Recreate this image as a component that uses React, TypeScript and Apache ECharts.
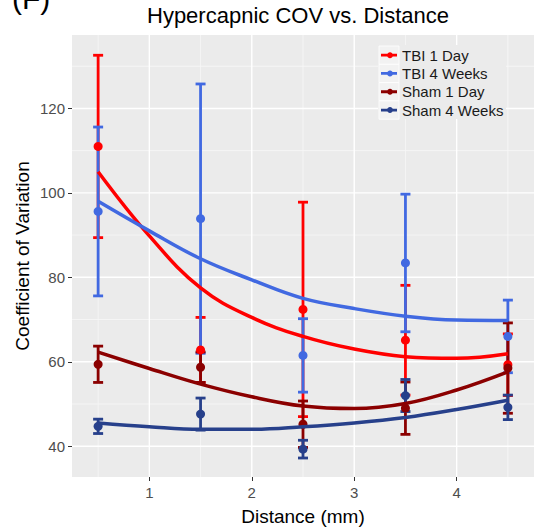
import React, { useEffect, useRef } from "react";
import * as echarts from "echarts";

// ---- data ----
const distances = [0.5, 1.5, 2.5, 3.5, 4.5];
const groups = ["TBI 1 Day", "TBI 4 Weeks", "Sham 1 Day", "Sham 4 Weeks"];
const colors = ["#FF0000", "#4169E1", "#8B0000", "#27408B"];

const tbi1DayMean = [111.0, 62.8, 72.4, 65.1, 59.3];
const tbi1DaySe = [21.6, 7.7, 25.4, 13.0, 7.3];
const tbi4WeeksMean = [95.6, 93.9, 61.5, 83.4, 66.0];
const tbi4WeeksSe = [20.0, 31.9, 8.7, 16.3, 8.6];
const sham1DayMean = [59.4, 58.7, 45.2, 49.0, 58.5];
const sham1DaySe = [4.3, 3.6, 5.5, 6.2, 10.7];
const sham4WeeksMean = [44.7, 47.6, 39.3, 52.0, 49.2];
const sham4WeeksSe = [1.7, 3.8, 2.1, 3.8, 2.9];

// smoothed fit curves, read at these distances
const fitX = [0.5, 1, 1.5, 2, 2.5, 3, 3.5, 4, 4.5];
const tbi1DayFit = [105.0, 89.8, 77.5, 70.5, 66.0, 63.0, 61.2, 60.8, 61.9];
const tbi4WeeksFit = [98.0, 91.0, 84.4, 79.4, 75.0, 72.6, 70.8, 69.9, 69.8];
const sham1DayFit = [62.3, 58.4, 54.7, 51.7, 49.5, 48.9, 50.1, 53.3, 57.6];
const sham4WeeksFit = [45.5, 44.6, 44.0, 44.0, 44.6, 45.5, 46.8, 48.7, 50.9];

const xTicks = [1, 2, 3, 4];
const xMinor = [0.5, 1.5, 2.5, 3.5, 4.5];
const yTicks = [40, 60, 80, 100, 120];
const yMinor = [50, 70, 90, 110, 130];

const means = [tbi1DayMean, tbi4WeeksMean, sham1DayMean, sham4WeeksMean];
const ses = [tbi1DaySe, tbi4WeeksSe, sham1DaySe, sham4WeeksSe];
const fits = [tbi1DayFit, tbi4WeeksFit, sham1DayFit, sham4WeeksFit];

const FONT = "Liberation Sans, Arial, Helvetica, sans-serif";

export default function App() {
  const ref = useRef<HTMLDivElement>(null);

  useEffect(() => {
    if (!ref.current) return;
    const chart = echarts.init(ref.current, null, { renderer: "svg" });

    // grid lines: [value, direction (0 = horizontal/y, 1 = vertical/x), major]
    const gridData: number[][] = [];
    yMinor.forEach((v) => gridData.push([v, 0, 0]));
    xMinor.forEach((v) => gridData.push([v, 1, 0]));
    yTicks.forEach((v) => gridData.push([v, 0, 1]));
    xTicks.forEach((v) => gridData.push([v, 1, 1]));

    const series: any[] = [];
    series.push({
      type: "custom",
      name: "grid",
      z: 1,
      silent: true,
      data: gridData,
      encode: { x: 0, y: 0 },
      renderItem: (params: any, api: any) => {
        const cs = params.coordSys;
        const v = api.value(0);
        const dir = api.value(1);
        const major = api.value(2);
        const style = {
          stroke: major ? "#FFFFFF" : "#F7F7F7",
          lineWidth: major ? 1.4 : 0.8,
        };
        if (dir === 0) {
          const y = api.coord([1, v])[1];
          return { type: "line", shape: { x1: cs.x, y1: y, x2: cs.x + cs.width, y2: y }, style };
        }
        const x = api.coord([v, 60])[0];
        return { type: "line", shape: { x1: x, y1: cs.y, x2: x, y2: cs.y + cs.height }, style };
      },
    });

    groups.forEach((g, gi) => {
      const color = colors[gi];
      series.push({
        type: "custom",
        name: g,
        z: 2 + gi * 0.1,
        itemStyle: { color },
        data: distances.map((d, i) => [d, means[gi][i] - ses[gi][i], means[gi][i] + ses[gi][i]]),
        encode: { x: 0, y: [1, 2] },
        renderItem: (_params: any, api: any) => {
          const x = api.value(0);
          const pLo = api.coord([x, api.value(1)]);
          const pHi = api.coord([x, api.value(2)]);
          const hw = 5;
          const style = { stroke: color, lineWidth: 2.8 };
          return {
            type: "group",
            children: [
              { type: "line", shape: { x1: pLo[0], y1: pLo[1], x2: pHi[0], y2: pHi[1] }, style },
              { type: "line", shape: { x1: pLo[0] - hw, y1: pLo[1], x2: pLo[0] + hw, y2: pLo[1] }, style },
              { type: "line", shape: { x1: pHi[0] - hw, y1: pHi[1], x2: pHi[0] + hw, y2: pHi[1] }, style },
            ],
          };
        },
      });
    });

    groups.forEach((g, gi) => {
      series.push({
        type: "scatter",
        name: g,
        z: 3,
        symbol: "circle",
        symbolSize: 9,
        itemStyle: { color: colors[gi], opacity: 1 },
        data: distances.map((d, i) => [d, means[gi][i]]),
      });
    });

    groups.forEach((g, gi) => {
      series.push({
        type: "line",
        name: g,
        z: 4,
        smooth: 0.4,
        symbol: "none",
        lineStyle: { color: colors[gi], width: 3.5 },
        itemStyle: { color: colors[gi] },
        data: fitX.map((x, i) => [x, fits[gi][i]]),
      });
    });

    const legendIcon =
      "path://M0,3.6H16V6.4H0Z M12,5C12,6.66 10.66,8 9,8C7.34,8 6,6.66 6,5C6,3.34 7.34,2 9,2C10.66,2 12,3.34 12,5Z";

    const option: any = {
      animation: false,
      textStyle: { fontFamily: FONT },
      grid: {
        left: 72,
        right: 4,
        top: 35,
        bottom: 50,
        show: true,
        backgroundColor: "#EBEBEB",
        borderWidth: 0,
      },
      xAxis: {
        type: "value",
        min: 0.245,
        max: 4.755,
        splitLine: { show: false },
        axisLine: { show: false },
        axisTick: { show: true, customValues: xTicks, length: 4, lineStyle: { color: "#333333", width: 1 } },
        axisLabel: { customValues: xTicks, color: "#4D4D4D", fontSize: 15, margin: 8, fontFamily: FONT },
      },
      yAxis: {
        type: "value",
        min: 32.7,
        max: 137.4,
        splitLine: { show: false },
        axisLine: { show: false },
        axisTick: { show: true, customValues: yTicks, length: 4, lineStyle: { color: "#333333", width: 1 } },
        axisLabel: { customValues: yTicks, color: "#4D4D4D", fontSize: 15, margin: 7, fontFamily: FONT },
      },
      legend: {
        orient: "vertical",
        left: 381,
        top: 46,
        padding: 0,
        itemGap: 0,
        itemWidth: 16,
        itemHeight: 10,
        z: 60,
        selectedMode: false,
        textStyle: { fontSize: 15, color: "#1A1A1A", lineHeight: 18.3, fontFamily: FONT },
        data: groups.map((g, gi) => ({ name: g, icon: legendIcon, itemStyle: { color: colors[gi] } })),
      },
      graphic: [
        {
          type: "rect",
          z: 50,
          silent: true,
          shape: { x: 378, y: 45, width: 128, height: 74 },
          style: { fill: "#EBEBEB" },
        },
        ...groups.map((_g, gi) => ({
          type: "rect",
          z: 51,
          silent: true,
          shape: { x: 379, y: 46 + gi * 18.3, width: 20, height: 18.3 },
          style: { fill: "#F2F2F2", stroke: "#FFFFFF", lineWidth: 0.8 },
        })),
        {
          type: "text",
          x: 12,
          y: 13,
          style: { text: "(F)", fontSize: 30, fill: "#000000", fontFamily: FONT, align: "left", verticalAlign: "bottom" },
        },
        {
          type: "text",
          x: 298,
          y: 15,
          style: {
            text: "Hypercapnic COV vs. Distance",
            fontSize: 22,
            fill: "#000000",
            fontFamily: FONT,
            align: "center",
            verticalAlign: "middle",
          },
        },
        {
          type: "text",
          x: 303,
          y: 516,
          style: {
            text: "Distance (mm)",
            fontSize: 19,
            fill: "#000000",
            fontFamily: FONT,
            align: "center",
            verticalAlign: "middle",
          },
        },
        {
          type: "text",
          x: 22,
          y: 256,
          rotation: Math.PI / 2,
          style: {
            text: "Coefficient of Variation",
            fontSize: 19,
            fill: "#000000",
            fontFamily: FONT,
            align: "center",
            verticalAlign: "middle",
          },
        },
      ],
      series,
    };

    chart.setOption(option);
    return () => chart.dispose();
  }, []);

  return (
    <div
      ref={ref}
      style={{ position: "absolute", left: 0, top: 0, width: 538, height: 527 }}
    />
  );
}
